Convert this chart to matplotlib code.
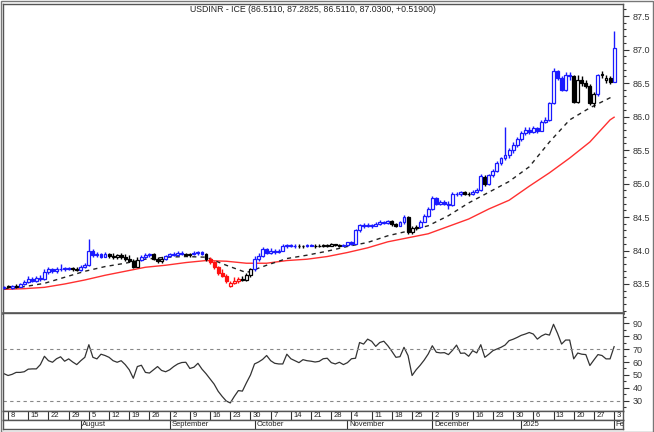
import matplotlib
matplotlib.use("Agg")
import numpy as np
import pandas as pd
import matplotlib.pyplot as plt
from matplotlib.patches import Rectangle

plt.rcParams['font.family'] = ['Liberation Sans', 'DejaVu Sans']

# -------------------------------
# data
# -------------------------------
dates = pd.bdate_range("2024-07-05", "2025-02-03")

opens = [
    83.44, 83.47, 83.44, 83.47, 83.46, 83.50, 83.53, 83.58, 83.55, 83.59,
    83.57, 83.68, 83.72, 83.69, 83.73, 83.72, 83.74, 83.74, 83.73, 83.71,
    83.76, 83.79, 84.00, 83.93, 83.95, 83.91, 83.95, 83.92, 83.90, 83.93,
    83.90, 83.88, 83.85, 83.76, 83.86, 83.90, 83.93, 83.95, 83.88, 83.84,
    83.88, 83.92, 83.95, 83.94, 83.97, 83.95, 83.93, 83.95, 83.97, 83.98,
    83.95, 83.88, 83.83, 83.75, 83.67, 83.62, 83.47, 83.52, 83.55, 83.57,
    83.56, 83.63, 83.72, 83.88, 83.92, 84.02, 83.97, 84.00, 83.98, 84.00,
    84.07, 84.08, 84.06, 84.07, 84.06, 84.07, 84.08, 84.07, 84.06, 84.07,
    84.08, 84.07, 84.09, 84.08, 84.07, 84.08, 84.12, 84.10, 84.30, 84.38,
    84.37, 84.38, 84.37, 84.40, 84.43, 84.41, 84.44, 84.39, 84.37, 84.42,
    84.50, 84.27, 84.33, 84.35, 84.43, 84.52, 84.62, 84.78, 84.70, 84.72,
    84.70, 84.68, 84.85, 84.84, 84.87, 84.85, 84.84, 84.88, 84.90, 85.10,
    84.99, 85.12, 85.19, 85.30, 85.38, 85.42, 85.50, 85.58, 85.66, 85.75,
    85.80, 85.77, 85.83, 85.79, 85.92, 85.95, 86.20, 86.68, 86.58, 86.40,
    86.62, 86.60, 86.22, 86.55, 86.50, 86.46, 86.20, 86.33, 86.62, 86.54,
    86.58, 86.511,
]
highs = [
    83.47, 83.49, 83.48, 83.50, 83.52, 83.56, 83.62, 83.61, 83.62, 83.64,
    83.72, 83.75, 83.74, 83.76, 83.80, 83.76, 83.76, 83.75, 83.75, 83.78,
    83.82, 84.17, 84.02, 83.98, 83.97, 83.98, 83.97, 83.96, 83.95, 83.96,
    83.95, 83.93, 83.87, 83.90, 83.93, 83.96, 83.97, 83.96, 83.91, 83.90,
    83.94, 83.97, 83.98, 83.99, 83.99, 83.97, 83.97, 83.99, 84.00, 84.00,
    83.97, 83.90, 83.85, 83.77, 83.72, 83.65, 83.55, 83.60, 83.61, 83.62,
    83.66, 83.74, 83.92, 83.96, 84.05, 84.04, 84.03, 84.02, 84.02, 84.09,
    84.10, 84.10, 84.09, 84.09, 84.08, 84.09, 84.10, 84.09, 84.09, 84.10,
    84.10, 84.11, 84.10, 84.09, 84.10, 84.13, 84.14, 84.32, 84.40, 84.41,
    84.41, 84.40, 84.42, 84.45, 84.44, 84.46, 84.45, 84.41, 84.44, 84.53,
    84.52, 84.36, 84.38, 84.45, 84.55, 84.65, 84.81, 84.80, 84.76, 84.76,
    84.74, 84.87, 84.88, 84.89, 84.89, 84.88, 84.90, 84.93, 85.14, 85.13,
    85.14, 85.22, 85.33, 85.40, 85.85, 85.53, 85.62, 85.70, 85.78, 85.84,
    85.85, 85.86, 85.85, 85.95, 85.99, 86.22, 86.72, 86.70, 86.60, 86.66,
    86.66, 86.62, 86.62, 86.60, 86.55, 86.48, 86.36, 86.64, 86.68, 86.62,
    86.60, 87.2825,
]
lows = [
    83.42, 83.44, 83.43, 83.44, 83.45, 83.48, 83.51, 83.53, 83.53, 83.55,
    83.56, 83.65, 83.67, 83.67, 83.70, 83.70, 83.71, 83.70, 83.70, 83.70,
    83.74, 83.77, 83.90, 83.91, 83.89, 83.90, 83.89, 83.88, 83.88, 83.88,
    83.85, 83.83, 83.74, 83.75, 83.84, 83.88, 83.90, 83.86, 83.82, 83.82,
    83.86, 83.90, 83.92, 83.92, 83.93, 83.92, 83.91, 83.93, 83.94, 83.93,
    83.85, 83.80, 83.73, 83.64, 83.60, 83.52, 83.45, 83.50, 83.52, 83.54,
    83.55, 83.61, 83.70, 83.85, 83.90, 83.95, 83.95, 83.95, 83.96, 83.99,
    84.04, 84.05, 84.04, 84.04, 84.04, 84.05, 84.06, 84.04, 84.05, 84.05,
    84.05, 84.06, 84.06, 84.05, 84.06, 84.07, 84.08, 84.09, 84.28, 84.34,
    84.35, 84.34, 84.36, 84.38, 84.39, 84.40, 84.37, 84.35, 84.36, 84.40,
    84.24, 84.25, 84.30, 84.33, 84.42, 84.50, 84.60, 84.68, 84.68, 84.68,
    84.62, 84.66, 84.82, 84.82, 84.83, 84.82, 84.83, 84.86, 84.89, 84.96,
    84.98, 85.10, 85.17, 85.28, 85.35, 85.38, 85.45, 85.55, 85.63, 85.72,
    85.74, 85.75, 85.76, 85.78, 85.90, 85.93, 86.18, 86.55, 86.38, 86.38,
    86.55, 86.20, 86.20, 86.46, 86.42, 86.17, 86.14, 86.31, 86.58, 86.50,
    86.48, 86.511,
]
closes = [
    83.45, 83.45, 83.47, 83.46, 83.50, 83.53, 83.58, 83.55, 83.59, 83.57,
    83.68, 83.72, 83.69, 83.73, 83.72, 83.74, 83.73, 83.72, 83.71, 83.76,
    83.79, 84.00, 83.93, 83.95, 83.91, 83.95, 83.92, 83.90, 83.93, 83.90,
    83.88, 83.85, 83.76, 83.86, 83.90, 83.93, 83.95, 83.88, 83.84, 83.88,
    83.92, 83.95, 83.94, 83.97, 83.95, 83.93, 83.95, 83.97, 83.98, 83.95,
    83.88, 83.83, 83.75, 83.67, 83.62, 83.55, 83.52, 83.55, 83.57, 83.56,
    83.63, 83.72, 83.88, 83.92, 84.02, 83.97, 84.00, 83.98, 84.00, 84.07,
    84.08, 84.06, 84.07, 84.06, 84.07, 84.08, 84.07, 84.06, 84.07, 84.08,
    84.07, 84.09, 84.08, 84.07, 84.08, 84.12, 84.10, 84.30, 84.38, 84.37,
    84.38, 84.37, 84.40, 84.43, 84.41, 84.44, 84.39, 84.37, 84.42, 84.50,
    84.27, 84.33, 84.35, 84.43, 84.52, 84.62, 84.78, 84.70, 84.72, 84.70,
    84.68, 84.85, 84.84, 84.87, 84.85, 84.84, 84.88, 84.90, 85.11, 84.99,
    85.12, 85.19, 85.30, 85.38, 85.42, 85.50, 85.58, 85.66, 85.75, 85.80,
    85.77, 85.83, 85.79, 85.92, 85.95, 86.20, 86.68, 86.58, 86.40, 86.62,
    86.60, 86.22, 86.55, 86.50, 86.46, 86.20, 86.33, 86.62, 86.64, 86.58,
    86.511, 87.03,
]
# b = blue (bullish), k = black (neutral), r = red (bearish)
bar_colors = ("bkbkbbbbbb" "bbbbbbbkkb" "bbbbbbkkkk" "kkkkbbbkkk" "bbbbbkkbbb"
              "krrrrrrrrk" "kkbbbbbbbb" "bbbkkbbkkk" "kkkkbbbbbb" "bbbbbbkkbb"
              "kkkbbbbbbb" "bbbbkkbbbk" "bbbbbbbbbb" "bbbbbbbbbb" "bkkkkkkbkk"
              "kb")

# moving averages, read every 5 bars
ma_idx = list(range(0, 151, 5)) + [151]
ma_short = [83.43, 83.46, 83.51, 83.60, 83.69, 83.76, 83.81, 83.87, 83.90, 83.91,
            83.90, 83.78, 83.67, 83.78, 83.88, 83.93, 83.99, 84.06, 84.12, 84.22,
            84.29, 84.37, 84.52, 84.71, 84.87, 85.03, 85.25, 85.62, 85.95, 86.13,
            86.28, 86.30]
ma_long = [83.42, 83.43, 83.45, 83.50, 83.56, 83.63, 83.69, 83.75, 83.78, 83.82,
           83.85, 83.84, 83.81, 83.81, 83.85, 83.87, 83.91, 83.97, 84.04, 84.13,
           84.19, 84.25, 84.36, 84.47, 84.62, 84.75, 84.96, 85.16, 85.38, 85.62,
           85.95, 85.99]

rsi = [
    51, 49.6, 50.5, 52, 52, 52.5, 54.5, 54.7, 54.7, 58,
    64.4, 61, 59.8, 62.5, 64, 60.6, 62.4, 60, 58, 61,
    63.6, 73.3, 63.6, 62.4, 66, 65, 63.6, 61, 59.8, 61,
    58, 54, 47.5, 56.5, 57.5, 52, 51.5, 54, 56.5, 53.5,
    52.5, 54, 56.5, 58.5, 59.6, 59.8, 55, 56, 59, 54.5,
    51, 47, 43, 37.5, 33.5, 30, 28.5, 33.5, 38, 37.6,
    44, 50, 58.5, 60, 62, 65, 61, 59, 58.5, 58.5,
    66, 62.5, 61, 59.5, 61.8, 61, 60.6, 60, 60.5, 62.5,
    62.9, 59.5, 58.5, 59.8, 58, 59.5, 62.5, 62.9, 75, 73.8,
    77.6, 75.9, 72, 75, 76, 72.5, 68.2, 63.6, 64.1, 71.3,
    64.9, 49.6, 54, 57.5, 61.5, 66.2, 72.5, 67.5, 67, 67.2,
    65.7, 69, 73, 66.7, 66.9, 64.4, 68.7, 67, 73.3, 63.6,
    66, 68.7, 70, 71.3, 73, 76.4, 77.5, 78.9, 80.5, 81.5,
    82.7, 81.5, 77.6, 80, 81.5, 80.7, 89, 82, 73.8, 76.9,
    76.9, 62.4, 66.9, 66, 65.7, 57.3, 61.6, 65.7, 65, 62.4,
    62.4, 71.8,
]

title = "USDINR - ICE (86.5110, 87.2825, 86.5110, 87.0300, +0.51900)"
month_names = {8: "August", 9: "September", 10: "October", 11: "November",
               12: "December", 1: "2025", 2: "Feb"}

# -------------------------------
# layout (pixel boxes)
# -------------------------------
W, H = 654, 432
fig = plt.figure(figsize=(W / 100, H / 100), dpi=100)


def box(x0, y0, x1, y1):
    return [x0 / W, 1 - y1 / H, (x1 - x0) / W, (y1 - y0) / H]


ax = fig.add_axes(box(3, 4, 623, 313))
ax_r = fig.add_axes(box(3, 313, 623, 411), sharex=ax)
ax_d = fig.add_axes(box(3, 411, 623, 420), sharex=ax)
ax_m = fig.add_axes(box(3, 420, 623, 429), sharex=ax)

fig.patches.append(Rectangle((0.001, 0.001), 0.997, 0.997, transform=fig.transFigure,
                             fill=False, edgecolor="#777777", lw=1))

cmap = {"b": "#1a1aff", "k": "#000000", "r": "#ff1010"}
n = len(closes)
x = np.arange(n)

# moving averages
ax.plot(ma_idx, ma_long, color="#ff3030", lw=1, zorder=1)
ax.plot(ma_idx, ma_short, color="#222222", lw=1, ls=(0, (3, 3)), zorder=1)

# candles
bw = 0.72
for i in range(n):
    o, h, l, c = opens[i], highs[i], lows[i], closes[i]
    col = cmap[bar_colors[i]]
    ax.vlines(i, l, h, color=col, lw=1, zorder=2)
    lo, hi = min(o, c), max(o, c)
    if hi - lo < 0.004:
        ax.hlines(o, i - bw / 2, i + bw / 2, color=col, lw=1, zorder=3)
    else:
        face = col if c < o else "white"
        ax.add_patch(Rectangle((i - bw / 2, lo), bw, hi - lo, facecolor=face,
                               edgecolor=col, lw=0.9, zorder=3))

ax.set_xlim(-0.25, 153.2)
ax.set_ylim(83.067, 87.68)
ax.yaxis.tick_right()
ax.set_yticks(np.arange(83.5, 87.51, 0.5))
ax.set_yticks(np.arange(83.1, 87.61, 0.1), minor=True)
ax.yaxis.set_major_formatter(plt.FuncFormatter(lambda v, p: f"{v:.1f}"))
ax.tick_params(axis="y", which="major", length=4, width=0.8, labelsize=6.5,
               colors="#333333", pad=3)
ax.tick_params(axis="y", which="minor", length=2, width=0.8, colors="#333333")
ax.tick_params(axis="x", which="both", bottom=False, labelbottom=False)
ax.text(0.5, 0.997, title, transform=ax.transAxes, ha="center", va="top",
        fontsize=6.3, color="#222222")

# RSI panel
ax_r.plot(x, rsi, color="#333333", lw=0.9)
ax_r.axhline(70, color="#888888", lw=0.8, ls=(0, (3, 3)))
ax_r.axhline(30, color="#888888", lw=0.8, ls=(0, (3, 3)))
ax_r.set_ylim(22.3, 97.7)
ax_r.yaxis.tick_right()
ax_r.set_yticks(np.arange(30, 91, 10))
ax_r.set_yticks(np.arange(25, 96, 5), minor=True)
ax_r.tick_params(axis="y", which="major", length=4, width=0.8, labelsize=6.5,
                 colors="#333333", pad=3)
ax_r.tick_params(axis="y", which="minor", length=2, width=0.8, colors="#333333")
ax_r.tick_params(axis="x", which="both", bottom=False, labelbottom=False)

for a in (ax, ax_r, ax_d, ax_m):
    for s in a.spines.values():
        s.set_color("#555555")
        s.set_linewidth(1)
ax.spines["bottom"].set_linewidth(2)
ax.spines["bottom"].set_color("#666666")

# date rows
for a in (ax_d, ax_m):
    a.set_ylim(0, 1)
    a.set_yticks([])
    a.tick_params(axis="x", which="both", bottom=False, labelbottom=False)

for i, d in enumerate(dates):
    if d.weekday() == 0:
        ax_d.axvline(i, color="#333333", lw=0.8)
        ax_d.text(i + 0.6, 0.45, str(d.day), ha="left", va="center",
                  fontsize=5.5, color="#222222")
    if i == 0 or d.month != dates[i - 1].month:
        if i == 0:
            continue
        ax_m.axvline(i, color="#333333", lw=0.8)
        ax_m.text(i + 0.4, 0.45, month_names[d.month], ha="left", va="center",
                  fontsize=5.5, color="#222222", clip_on=True)

fig.savefig("out.png", dpi=100)
